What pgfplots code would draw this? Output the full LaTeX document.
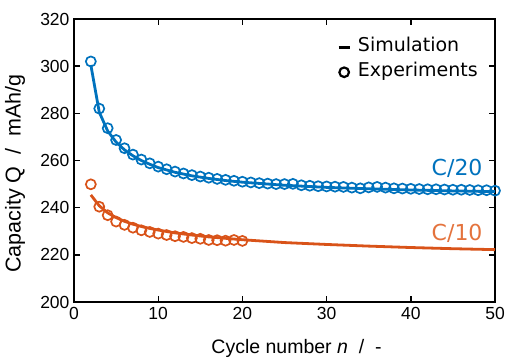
\documentclass[border=0pt]{standalone}
\usepackage{pgfplots}
\pgfplotsset{compat=1.18}
\usepackage{fontspec}
\setmainfont{Liberation Sans}
\newfontfamily\dejavu{DejaVu Sans}
\definecolor{mblue}{HTML}{0072BD}
\definecolor{morange}{HTML}{D95319}
\definecolor{torange}{HTML}{E4733D}
\pgfplotsset{
  lineleg/.style={legend image code/.code={\draw[##1] (-5pt,0pt) -- (6pt,0pt);}},
  circleg/.style={legend image code/.code={\draw[##1] (0.5pt,0pt) circle (4.8pt);}},
}

\pgfplotstableread{
n q
2 302.0
3 282.0
4 273.7
5 268.7
6 265.2
7 262.5
8 260.4
9 258.8
10 257.4
11 256.3
12 255.3
13 254.5
14 253.8
15 253.2
16 252.7
17 252.2
18 251.8
19 251.4
20 251.0
21 250.7
22 250.4
23 250.2
24 250.0
25 250.0
26 250.1
27 249.5
28 249.3
29 249.1
30 249.0
31 248.9
32 248.8
33 248.5
34 248.2
35 248.6
36 248.8
37 248.5
38 248.2
39 248.1
40 248.0
41 247.9
42 247.8
43 247.8
44 247.7
45 247.6
46 247.6
47 247.5
48 247.4
49 247.4
50 247.2
}\blueexp

\pgfplotstableread{
n q
2 300.5
3 280.5
4 272.5
5 267.8
6 264.5
7 262.0
8 260.0
9 258.4
10 257.0
12 255.0
14 253.5
16 252.4
18 251.5
20 250.8
25 249.5
30 248.6
35 248.0
40 247.5
45 247.1
50 246.8
}\bluesim

\pgfplotstableread{
n q
2 249.9
3 240.4
4 236.8
5 234.1
6 232.7
7 231.5
8 230.4
9 229.7
10 229.0
11 228.4
12 227.9
13 227.6
14 227.1
15 226.8
16 226.3
17 226.2
18 226.0
19 226.3
20 225.9
}\orangeexp

\pgfplotstableread{
n q
2 245.4
3 240.8
4 237.8
5 235.8
6 234.2
7 233.0
8 232.0
9 231.2
10 230.5
12 229.3
14 228.4
16 227.6
18 227.0
20 226.4
25 225.2
30 224.4
35 223.7
40 223.1
45 222.6
50 222.2
}\orangesim

\begin{document}
\begin{tikzpicture}
\path[use as bounding box] (-74pt,-56pt) rectangle (431pt,302pt);
\begin{axis}[
  at={(0pt,0pt)}, anchor=south west,
  scale only axis, width=421pt, height=283pt,
  xmin=0, xmax=50, ymin=200, ymax=320,
  xtick={0,10,...,50}, ytick={200,220,...,320},
  tick align=inside, major tick length=6pt,
  axis line style={line width=1.6pt},
  every tick/.style={black, line width=1.4pt},
  tick label style={font=\fontsize{17.5}{19}\selectfont},
  /pgf/number format/assume math mode=true,
  xlabel={Cycle number \textit{n}\ \ /\ \ -},
  ylabel={Capacity Q\ \ /\ \ mAh/g},
  xlabel style={font=\fontsize{19.5}{21}\selectfont, at={(axis description cs:0.5,0)}, anchor=center, yshift=-46pt, xshift=12pt},
  ylabel style={font=\fontsize{21.5}{23}\selectfont, at={(axis description cs:0,0.5)}, anchor=center, yshift=59pt, xshift=-13pt},
  xticklabel style={yshift=-2pt},
  yticklabel style={xshift=-1pt},
  legend style={draw=none, fill=none, at={(0.618,0.945)}, anchor=north west,
    font=\dejavu\fontsize{19}{22}\selectfont, row sep=4pt,
    nodes={text height=13pt, text depth=4pt, inner sep=2pt}},
  legend cell align=left,
  clip=false,
]
\addplot[mblue, line width=2.8pt, forget plot] table[x=n,y=q] {\bluesim};
\addplot[morange, line width=2.8pt, forget plot] table[x=n,y=q] {\orangesim};
\addplot[mblue, only marks, mark=o, mark size=5pt, mark options={line width=1.7pt}, forget plot] table[x=n,y=q] {\blueexp};
\addplot[morange, only marks, mark=o, mark size=5pt, mark options={line width=1.7pt}, forget plot] table[x=n,y=q] {\orangeexp};
\addlegendimage{black, line width=2.6pt, lineleg}
\addlegendentry{\hspace{5pt}Simulation}
\addlegendimage{black, line width=2.2pt, circleg}
\addlegendentry{\hspace{5pt}Experiments}
\node[mblue, font=\dejavu\fontsize{22}{24}\selectfont] at (axis cs:45.5,256.5) {C/20};
\node[torange, font=\dejavu\fontsize{22}{24}\selectfont] at (axis cs:45.5,229.2) {C/10};
\end{axis}
\end{tikzpicture}
\end{document}
